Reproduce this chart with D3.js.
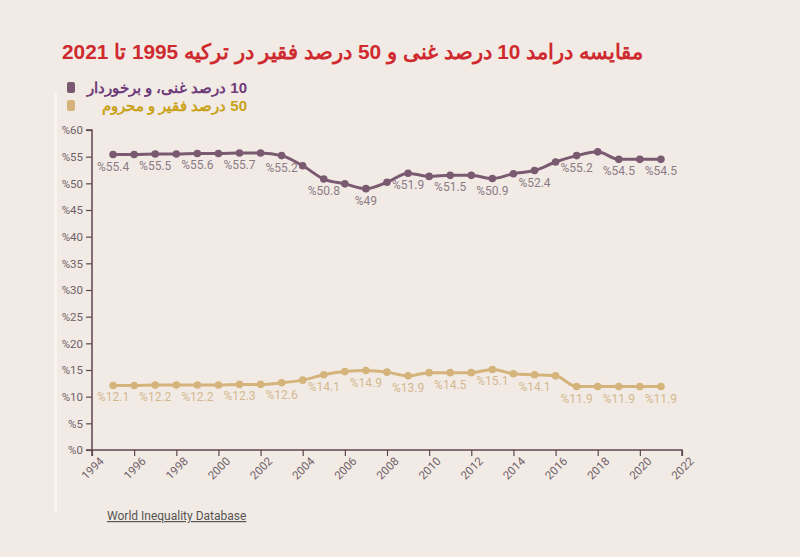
<!DOCTYPE html>
<html><head><meta charset="utf-8">
<script src="https://cdn.jsdelivr.net/npm/d3@7/dist/d3.min.js"></script>
<style>
html,body{margin:0;padding:0;background:#f2ebe5;}
svg{display:block;}
</style></head>
<body>
<svg id="chart" width="800" height="557"></svg>
<script>
const titleText = "مقایسه درامد 10 درصد غنی و 50 درصد فقیر در ترکیه  1995 تا 2021";
const seriesNames = ["10 درصد غنی، و برخوردار", "50 درصد فقیر و محروم"];
const years = [1995,1996,1997,1998,1999,2000,2001,2002,2003,2004,2005,2006,2007,2008,2009,2010,2011,2012,2013,2014,2015,2016,2017,2018,2019,2020,2021];
const top10 = [55.4,55.4,55.5,55.5,55.6,55.6,55.7,55.7,55.2,53.3,50.8,49.9,49.0,50.2,51.9,51.3,51.5,51.5,50.9,51.8,52.4,54.0,55.2,55.9,54.5,54.5,54.5];
const bottom50 = [12.1,12.1,12.2,12.2,12.2,12.2,12.3,12.3,12.6,13.1,14.1,14.7,14.9,14.6,13.9,14.5,14.5,14.5,15.1,14.3,14.1,13.9,11.9,11.9,11.9,11.9,11.9];
const labelYears = [1995,1997,1999,2001,2003,2005,2007,2009,2011,2013,2015,2017,2019,2021];
const yTicks = [0,5,10,15,20,25,30,35,40,45,50,55,60];
const xTicks = [1994,1996,1998,2000,2002,2004,2006,2008,2010,2012,2014,2016,2018,2020,2022];
const sourceText = "World Inequality Database";

const colors = {line1:"#7a5a70", line2:"#d5b47c", lab1:"#8c7a86", lab2:"#d2b88f", leg1:"#6e3b7a", leg2:"#c9a21a"};

const svg = d3.select("#chart");
svg.append("rect").attr("x",0).attr("y",0).attr("width",800).attr("height",557).attr("fill","#f2ebe5");
svg.append("rect").attr("x",54).attr("y",92).attr("width",3).attr("height",420).attr("fill","#f8f4f0");

const x = d3.scaleLinear().domain([1994,2022]).range([92,682]);
const y = d3.scaleLinear().domain([0,60]).range([450,130]);

// title (RTL: anchor start = right edge)
svg.append("text").attr("x",643).attr("y",59).attr("text-anchor","start")
  .attr("direction","rtl")
  .attr("font-family","Liberation Sans, Arial, sans-serif").attr("font-weight","bold")
  .attr("font-size",20.8).attr("fill","#cf2a2f").text(titleText);

// legend
const legCols = [[colors.line1,colors.leg1],[colors.line2,colors.leg2]];
seriesNames.forEach((n,i)=>{
  const yy = 87 + i*18;
  svg.append("rect").attr("x",67).attr("y",yy-5).attr("width",8).attr("height",11).attr("rx",2).attr("fill",legCols[i][0]);
  svg.append("text").attr("x",247).attr("y",yy+6).attr("text-anchor","start").attr("direction","rtl")
    .attr("font-family","Liberation Sans, Arial, sans-serif").attr("font-weight","bold")
    .attr("font-size",15).attr("fill",legCols[i][1]).text(n);
});

// axes
const axisColor = "#5e464f";
const yAxis = svg.append("g").attr("transform","translate(92,0)")
  .call(d3.axisLeft(y).tickValues(yTicks).tickSize(6).tickPadding(3).tickFormat(d=>"%"+d));
const xAxis = svg.append("g").attr("transform","translate(0,450)")
  .call(d3.axisBottom(x).tickValues(xTicks).tickSize(6).tickFormat(d=>String(d)));
[yAxis,xAxis].forEach(g=>{
  g.select(".domain").attr("stroke",axisColor).attr("stroke-width",1.5);
  g.selectAll(".tick line").attr("stroke",axisColor).attr("stroke-width",1.2);
  g.selectAll(".tick text").attr("fill","#6f6068").attr("font-family","Roboto, 'Liberation Sans', sans-serif").attr("font-size",11.5);
});
yAxis.select(".domain").attr("d","M-6,130H0V450H-6");
xAxis.select(".domain").attr("d","M92,6V0H682V6");
xAxis.selectAll(".tick text").attr("text-anchor","end").attr("dy","0.2em").attr("dx","0.5em")
  .attr("transform","translate(0,8) rotate(-45)");

// lines
const series = [
  {vals: top10, line: colors.line1, lab: colors.lab1},
  {vals: bottom50, line: colors.line2, lab: colors.lab2}
];
const lineGen = d3.line().x(d=>x(d[0])).y(d=>y(d[1])).curve(d3.curveMonotoneX);
series.forEach(s=>{
  const pts = years.map((yr,i)=>[yr,s.vals[i]]);
  svg.append("path").datum(pts).attr("d",lineGen).attr("fill","none")
    .attr("stroke",s.line).attr("stroke-width",3);
  svg.selectAll(null).data(pts).enter().append("circle")
    .attr("cx",d=>x(d[0])).attr("cy",d=>y(d[1])).attr("r",3.8).attr("fill",s.line);
  svg.selectAll(null).data(pts.filter(d=>labelYears.includes(d[0]))).enter().append("text")
    .attr("x",d=>x(d[0])).attr("y",d=>y(d[1])+16).attr("text-anchor","middle")
    .attr("font-family","Roboto, 'Liberation Sans', sans-serif").attr("font-size",12)
    .attr("fill",s.lab).text(d=>"%"+d[1]);
});

// source
svg.append("text").attr("x",107).attr("y",520)
  .attr("font-family","Roboto, 'Liberation Sans', sans-serif").attr("font-size",12)
  .attr("fill","#555").attr("text-decoration","underline").text(sourceText);
</script>
</body></html>
